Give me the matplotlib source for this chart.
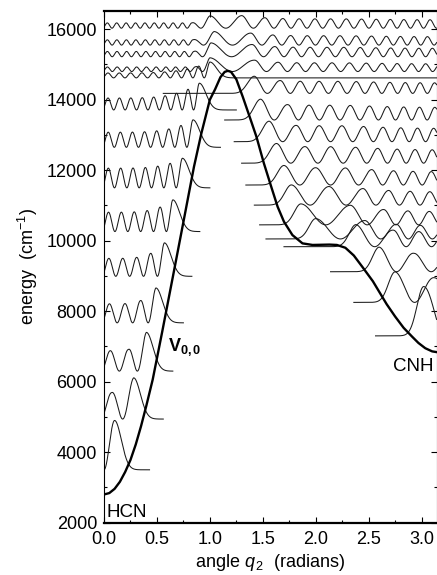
import numpy as np
import matplotlib
matplotlib.use("Agg")
import matplotlib.pyplot as plt
from matplotlib.ticker import MultipleLocator, FormatStrFormatter

plt.rcParams['font.family'] = ['Liberation Sans', 'DejaVu Sans']
plt.rcParams['mathtext.fontset'] = 'custom'
plt.rcParams['mathtext.rm'] = 'Liberation Sans'
plt.rcParams['mathtext.it'] = 'Liberation Sans:italic'
plt.rcParams['mathtext.bf'] = 'Liberation Sans:bold'

# potential curve V_0,0 (angle, energy)
pot_x = [0.00, 0.05, 0.10, 0.15, 0.20, 0.25, 0.30, 0.35, 0.40, 0.46, 0.55, 0.65,
         0.75, 0.85, 0.92, 1.00, 1.05, 1.10, 1.14, 1.17, 1.20, 1.25, 1.31, 1.38,
         1.44, 1.51, 1.58, 1.64, 1.70, 1.78, 1.875, 1.97, 2.05, 2.13, 2.20, 2.28,
         2.36, 2.44, 2.54, 2.60, 2.67, 2.75, 2.83, 2.91, 2.97, 3.035, 3.10, 3.1416]
pot_v = [2800, 2840, 2960, 3160, 3440, 3780, 4220, 4740, 5320, 6060, 7420, 8970,
         10530, 12100, 13050, 14000, 14300, 14640, 14790, 14820, 14790, 14580, 14090, 13480,
         12950, 12200, 11530, 10965, 10540, 10160, 9925, 9880, 9885, 9890, 9880, 9800,
         9580, 9260, 8850, 8550, 8200, 7850, 7530, 7280, 7100, 6950, 6860, 6840]

# HCN bending levels: energy, number of lobes, last lobe, lobe heights, end of tail
hcn_e = [3500, 4940, 6300, 7670, 8990, 10260, 11500, 12650, 13710, 14620]
hcn_n = [1, 2, 3, 4, 5, 6, 7, 8, 9, 10]
hcn_last = [0.10, 0.28, 0.40, 0.49, 0.57, 0.65, 0.74, 0.84, 0.90, 1.00]
hcn_in = [1400, 750, 580, 540, 510, 550, 560, 430, 340, 140]
hcn_out = [1400, 1170, 1100, 990, 950, 900, 840, 780, 760, 450]
hcn_end = [0.43, 0.56, 0.65, 0.75, 0.83, 0.905, 1.00, 1.10, 1.25, np.pi]

# levels on the CNH side: energy, start of flat tail, first lobe, lobe height
cnh_e = [7300, 8250, 9120, 9830, 10050, 10450, 11010, 11580, 12200, 12810, 13425, 14180]
cnh_start = [2.565, 2.36, 2.14, 1.70, 1.53, 1.47, 1.42, 1.34, 1.30, 1.23, 1.14, 0.56]
cnh_first = [3.02, 2.75, 2.60, 2.38, 2.00, 1.86, 1.77, 1.70, 1.63, 1.56, 1.48, 1.42]
cnh_amp = [1400, 700, 500, 420, 380, 380, 380, 380, 380, 380, 360, 300]

# levels above the barrier
top_e = [16030, 15550, 15220, 14800]
top_nleft = [10, 10, 10, 10]
top_left_last = [0.83, 0.84, 0.85, 0.86]
top_amp_left = [150, 150, 150, 130]
top_right_first = [1.00, 1.04, 1.01, 1.00]
top_amp_right = [240, 240, 240, 220]

C_WKB = 0.27
SIG = 0.09


def pot(x):
    return np.interp(x, pot_x, pot_v)


def left_lobes(n, x_last, a_in, a_out, f=0.35):
    k = np.arange(n)
    xp = x_last * (k + f) / (n - 1 + f)
    if n > 1:
        hp = a_in + (a_out - a_in) * (k / (n - 1)) ** 4
    else:
        hp = np.array([a_out], float)
    return xp, hp


def right_lobes(e, x0, amp):
    xg = np.linspace(x0, np.pi, 3000)
    k = np.sqrt(np.maximum(e - pot(xg), 600.0))
    ph = np.concatenate([[0.0], np.cumsum(0.5 * (k[1:] + k[:-1]) * np.diff(xg))]) * C_WKB
    m = np.arange(0, int(ph[-1] / np.pi) + 1)
    xp = np.interp(m * np.pi, ph, xg)
    kp = np.interp(xp, xg, k)
    hp = amp * np.minimum((k[-1] / kp) ** 0.5, 2.0)
    return xp, hp


def density(x, xp, hp, left, right):
    rho = np.zeros_like(x)
    for i in range(len(xp) - 1):
        a, b = xp[i], xp[i + 1]
        m = (x >= a) & (x <= b)
        t = (x[m] - a) / (b - a)
        rho[m] = (hp[i] * (1 - t) + hp[i + 1] * t) * np.cos(np.pi * t) ** 2
    m = x < xp[0]
    if left == 'tail':
        rho[m] = hp[0] * np.exp(-((xp[0] - x[m]) / SIG) ** 2)
    else:
        rho[m] = hp[0] * np.cos(np.pi * (xp[0] - x[m]) / left) ** 2
    m = x > xp[-1]
    if right == 'tail':
        rho[m] = hp[-1] * np.exp(-((x[m] - xp[-1]) / SIG) ** 2)
    else:
        rho[m] = hp[-1] * np.cos(np.pi * (x[m] - xp[-1]) / right) ** 2
    return rho


fig = plt.figure(figsize=(4.37, 5.75), dpi=100)
ax = fig.add_axes([0.238, 0.091, 0.761, 0.890])
lw = 0.75
col = '#1a1a1a'

# HCN side
for i in range(len(hcn_e)):
    x = np.linspace(0, hcn_end[i], 1500)
    xp, hp = left_lobes(hcn_n[i], hcn_last[i], hcn_in[i], hcn_out[i])
    d = 2 * xp[0] if hcn_n[i] == 1 else xp[1] - xp[0]
    ax.plot(x, hcn_e[i] + density(x, xp, hp, d, 'tail'), color=col, lw=lw)

# CNH side
for i in range(len(cnh_e)):
    x = np.linspace(cnh_start[i], np.pi, 1500)
    xp, hp = right_lobes(cnh_e[i], cnh_first[i], cnh_amp[i])
    d = 0.4 if len(xp) == 1 else xp[-1] - xp[-2]
    ax.plot(x, cnh_e[i] + density(x, xp, hp, 'tail', d), color=col, lw=lw)

# above the barrier
for i in range(len(top_e)):
    x = np.linspace(0, np.pi, 3000)
    xl, hl = left_lobes(top_nleft[i], top_left_last[i], top_amp_left[i], top_amp_left[i])
    xr, hr = right_lobes(top_e[i], top_right_first[i], top_amp_right[i])
    xp = np.concatenate([xl, xr])
    hp = np.concatenate([hl, hr])
    ax.plot(x, top_e[i] + density(x, xp, hp, xl[1] - xl[0], xr[-1] - xr[-2]), color=col, lw=lw)

ax.plot(pot_x, pot_v, color='black', lw=1.7)

ax.text(0.02, 2170, 'HCN', fontsize=13.5, ha='left', va='baseline')
ax.text(3.115, 6430, 'CNH', fontsize=13.5, ha='right', va='center')
ax.text(0.605, 6990, r'$\mathbf{V}_{\mathbf{0,0}}$', fontsize=13, ha='left', va='center')

ax.set_xlim(0, np.pi)
ax.set_ylim(2000, 16520)
ax.xaxis.set_major_locator(MultipleLocator(0.5))
ax.xaxis.set_minor_locator(MultipleLocator(0.25))
ax.xaxis.set_major_formatter(FormatStrFormatter('%.1f'))
ax.yaxis.set_major_locator(MultipleLocator(2000))
ax.yaxis.set_minor_locator(MultipleLocator(1000))
ax.tick_params(which='both', direction='in', top=True, right=True, labelsize=13)
ax.tick_params(which='major', length=4, width=0.8)
ax.tick_params(which='minor', length=2.5, width=0.8)
ax.tick_params(axis='y', pad=5)
ax.tick_params(axis='x', pad=6)
for s in ['left', 'right']:
    ax.spines[s].set_linewidth(0.8)
for s in ['top', 'bottom']:
    ax.spines[s].set_linewidth(1.6)

ax.set_xlabel('angle $q_{\\,2}$  (radians)', fontsize=13)
ax.set_ylabel('energy  (cm$^{-1}$)', fontsize=13)
ax.xaxis.set_label_coords(0.5, -0.057)
ax.xaxis.label.set_va('top')
ax.yaxis.set_label_coords(-0.229, 0.5)
ax.yaxis.label.set_va('center')

fig.savefig('out.png', dpi=100)
